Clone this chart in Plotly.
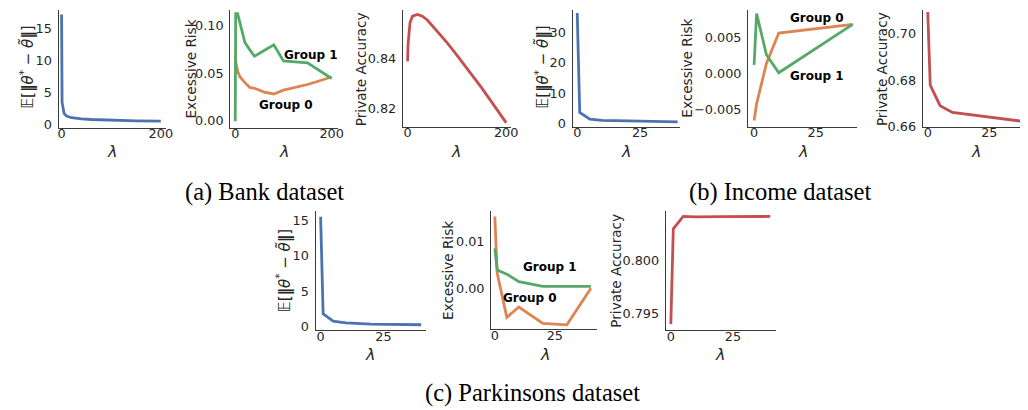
import plotly.graph_objects as go

W, H = 1028, 410

# ---------------- data ----------------
bank_lam = [0, 1, 5, 10, 20, 30, 40, 60, 80, 100, 150, 200]
bank_theta = [17.2, 3.4, 1.7, 1.25, 1.0, 0.9, 0.82, 0.72, 0.65, 0.6, 0.52, 0.48]
bank_er_g0 = [0.068, 0.062, 0.052, 0.046, 0.040, 0.035, 0.034, 0.030, 0.028, 0.032, 0.038, 0.046]
bank_er_g1 = [-0.001, 0.113, 0.113, 0.103, 0.0826, 0.075, 0.068, 0.074, 0.080, 0.063, 0.061, 0.0444]
bank_acc = [0.839, 0.846, 0.8545, 0.857, 0.8577, 0.857, 0.8555, 0.851, 0.8465, 0.8415, 0.8285, 0.8145]

inc_lam = [0, 1, 5, 10, 40]
inc_theta = [36.5, 3.6, 1.4, 1.0, 0.5]
inc_er_g0 = [-0.0065, -0.0042, 0.0014, 0.0056, 0.0068]
inc_er_g1 = [0.0012, 0.0083, 0.0026, 0.0001, 0.0068]
inc_acc = [0.7092, 0.6778, 0.669, 0.6661, 0.6621]

park_lam = [0, 1, 5, 10, 20, 30, 40]
park_theta = [15.5, 1.8, 0.75, 0.5, 0.35, 0.28, 0.25]
park_er_g0 = [0.0154, 0.0033, -0.0061, -0.0039, -0.0074, -0.0077, 0.0001]
park_er_g1 = [0.0086, 0.0040, 0.0031, 0.0015, 0.0005, 0.0005, 0.0005]
park_acc = [0.7940, 0.80298, 0.80414, 0.80410, 0.80412, 0.80416, 0.80414]

captions = ["(a) Bank dataset", "(b) Income dataset", "(c) Parkinsons dataset"]
theta_label = "𝔼[<b>‖</b><i>θ</i><sup>*</sup> − <i>θ̃</i><b>‖</b>]"

BLUE, ORANGE, GREEN, RED = "#4C72B0", "#DD8452", "#55A868", "#C44E52"
AXC = "#3a3a3a"
TXT = "#262626"
FONT = "DejaVu Sans"

def px(x):
    return x / W

def py(y):
    return 1 - y / H

# panel boxes in pixels: (left, right, top, bottom), x range, y range, ticks
panels = [
    dict(box=(50, 158, 2, 122), xr=[-6, 210], yr=[-0.6, 17.9], xt=[0, 200], yt=[0, 5, 10, 15], yf="d"),
    dict(box=(223, 332, 2, 122), xr=[-10.3, 214], yr=[-0.008, 0.117], xt=[0, 200], yt=[0, 0.05, 0.10], yf=".2f"),
    dict(box=(397, 506, 2, 121), xr=[-9.5, 210], yr=[0.8128, 0.8595], xt=[0, 200], yt=[0.82, 0.84], yf=".2f"),
    dict(box=(568, 676, 2, 121), xr=[-1.85, 40.8], yr=[-1.2, 37.5], xt=[0, 25], yt=[0, 10, 20, 30], yf="d"),
    dict(box=(745, 855, 2, 121), xr=[-2.4, 41.9], yr=[-0.0074, 0.0088], xt=[0, 25], yt=[-0.005, 0, 0.005], yf=".3f"),
    dict(box=(921, 1028, 2, 121), xr=[-2.0, 41.1], yr=[0.6599, 0.7101], xt=[0, 25], yt=[0.66, 0.68, 0.70], yf=".2f"),
    dict(box=(309, 420, 207, 328), xr=[-2.0, 41.8], yr=[-0.55, 16.24], xt=[0, 25], yt=[0, 5, 10, 15], yf="d"),
    dict(box=(486, 593, 207, 327), xr=[-1.5, 42.7], yr=[-0.00867, 0.01646], xt=[0, 25], yt=[0, 0.01], yf=".2f"),
    dict(box=(662, 773, 207, 328), xr=[-2.0, 42.3], yr=[0.79341, 0.80461], xt=[0, 25], yt=[0.795, 0.800], yf=".3f"),
]

series = [
    [(bank_lam, bank_theta, BLUE)],
    [(bank_lam, bank_er_g0, ORANGE), (bank_lam, bank_er_g1, GREEN)],
    [(bank_lam, bank_acc, RED)],
    [(inc_lam, inc_theta, BLUE)],
    [(inc_lam, inc_er_g0, ORANGE), (inc_lam, inc_er_g1, GREEN)],
    [(inc_lam, inc_acc, RED)],
    [(park_lam, park_theta, BLUE)],
    [(park_lam, park_er_g0, ORANGE), (park_lam, park_er_g1, GREEN)],
    [(park_lam, park_acc, RED)],
]

fig = go.Figure()
layout = {}
for i, (p, ss) in enumerate(zip(panels, series), start=1):
    sfx = "" if i == 1 else str(i)
    for xs, ys, col in ss:
        fig.add_trace(go.Scatter(x=xs, y=ys, mode="lines", line=dict(color=col, width=2.8),
                                 xaxis="x" + sfx, yaxis="y" + sfx, showlegend=False,
                                 cliponaxis=True))
    l, r, t, b = p["box"]
    common = dict(showline=True, linecolor=AXC, linewidth=1.3, showgrid=False, zeroline=False,
                  ticks="", tickfont=dict(family=FONT, size=12.8, color=TXT), mirror=False)
    layout["xaxis" + sfx] = dict(domain=[px(l), px(r)], range=p["xr"], anchor="y" + sfx,
                                 tickvals=p["xt"], ticklabelstandoff=-6, **common)
    layout["yaxis" + sfx] = dict(domain=[py(b), py(t)], range=p["yr"], anchor="x" + sfx,
                                 tickvals=p["yt"], tickformat=p["yf"], ticklabelstandoff=3, **common)

fig.update_layout(**layout)

ann = []
def text(x, y, s, size=13.6, angle=0, bold=False, family=FONT, color=TXT):
    ann.append(dict(x=px(x), y=py(y), xref="paper", yref="paper", text=("<b>%s</b>" % s) if bold else s,
                    showarrow=False, textangle=angle, xanchor="center", yanchor="middle",
                    font=dict(family=family, size=size, color=color)))

# y titles
text(19, 60, theta_label, size=15, angle=-90)
text(183, 62, "Excessive Risk", angle=-90)
text(355, 62, "Private Accuracy", angle=-90)
text(538, 60, theta_label, size=15, angle=-90)
text(683, 61, "Excessive Risk", angle=-90)
text(880, 62, "Private Accuracy", angle=-90)
text(277, 267, theta_label, size=15, angle=-90)
text(443, 267, "Excessive Risk", angle=-90)
text(612, 267, "Private Accuracy", angle=-90)

# x titles
for cx, cy in [(104, 146), (277, 146), (451, 146), (622, 146), (800, 146), (975, 146),
               (364, 353), (540, 353), (717, 353)]:
    text(cx, cy, "<i>λ</i>", size=16)

# group labels
text(304, 48, "Group 1", size=12, bold=True, color="black")
text(279, 99, "Group 0", size=12, bold=True, color="black")
text(814, 10, "Group 0", size=12, bold=True, color="black")
text(814, 69, "Group 1", size=12, bold=True, color="black")
text(545, 263, "Group 1", size=12, bold=True, color="black")
text(525, 295, "Group 0", size=12, bold=True, color="black")

# captions
text(258, 187, captions[0], size=24.5, family="Liberation Serif", color="black")
text(777, 187, captions[1], size=24.5, family="Liberation Serif", color="black")
text(528, 392, captions[2], size=24.5, family="Liberation Serif", color="black")

fig.update_layout(annotations=ann, width=W, height=H, margin=dict(l=0, r=0, t=0, b=0),
                  paper_bgcolor="white", plot_bgcolor="white", showlegend=False)

fig.write_html("out.html")
